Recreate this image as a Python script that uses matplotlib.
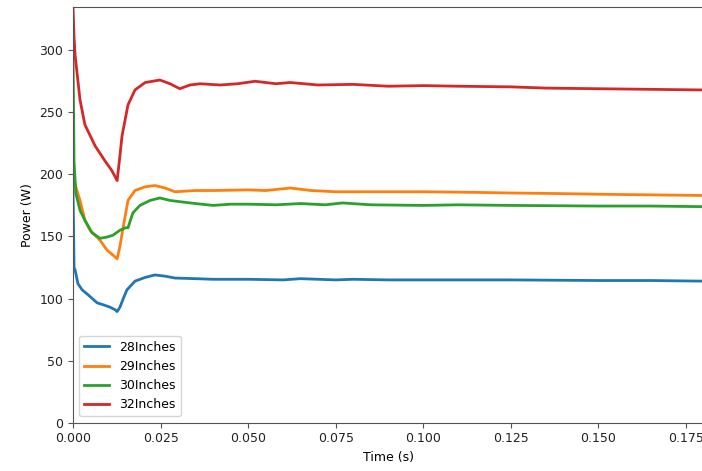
import numpy as np
import matplotlib
matplotlib.use("Agg")
import matplotlib.pyplot as plt

plt.rcParams['font.size'] = 9

# ---- data (time in s, power in W) ----
t_28 = [0.0, 0.0003, 0.0006, 0.0014, 0.0026, 0.0043, 0.0069, 0.0086, 0.0106, 0.0120, 0.0126,
        0.0134, 0.0145, 0.0154, 0.0177, 0.0206, 0.0234, 0.0263, 0.0291, 0.035, 0.040, 0.050,
        0.060, 0.065, 0.070, 0.075, 0.080, 0.090, 0.100, 0.125, 0.150, 0.165, 0.180]
p_28 = [190, 125, 123, 112, 107, 103, 96.5, 95, 93, 91, 89.5,
        93, 101, 107, 114, 117, 119, 118, 116.5, 116, 115.5, 115.5,
        115, 116, 115.5, 115, 115.5, 115, 115, 115, 114.5, 114.5, 114]

t_29 = [0.0, 0.0003, 0.0008, 0.0020, 0.0034, 0.0049, 0.0077, 0.0097, 0.0114, 0.0126,
        0.0134, 0.0143, 0.0157, 0.0177, 0.0206, 0.0234, 0.0263, 0.0291, 0.035, 0.040,
        0.050, 0.055, 0.062, 0.068, 0.075, 0.090, 0.100, 0.115, 0.125, 0.140, 0.150, 0.165, 0.180]
p_29 = [206, 196, 190, 179, 163, 155, 147, 139, 135, 132,
        142, 157, 179, 187, 190, 191, 189, 186, 187, 187,
        187.5, 187, 189, 187, 186, 186, 186, 185.5, 185, 184.5, 184, 183.5, 183]

t_30 = [0.0, 0.0003, 0.0008, 0.0020, 0.0034, 0.0054, 0.0077, 0.0097, 0.0114, 0.0134,
        0.0150, 0.0157, 0.0171, 0.0191, 0.0220, 0.0248, 0.0277, 0.0305, 0.035, 0.040,
        0.045, 0.050, 0.058, 0.065, 0.072, 0.077, 0.085, 0.100, 0.110, 0.125, 0.150, 0.165, 0.180]
p_30 = [300, 210, 185, 171, 163, 153, 148.5, 149.5, 151, 155,
        157, 157, 169, 175, 179, 181, 179, 178, 176.5, 175,
        176, 176, 175.5, 176.5, 175.5, 177, 175.5, 175, 175.5, 175, 174.5, 174.5, 174]

t_32 = [0.0, 0.0003, 0.0006, 0.0020, 0.0034, 0.0063, 0.0091, 0.0111, 0.0126,
        0.0134, 0.0140, 0.0157, 0.0177, 0.0206, 0.0248, 0.0277, 0.0305, 0.0334, 0.0363,
        0.042, 0.047, 0.052, 0.058, 0.062, 0.070, 0.080, 0.090, 0.100, 0.110, 0.125,
        0.135, 0.150, 0.165, 0.180]
p_32 = [335, 310, 296, 260, 240, 223, 211, 203, 195,
        215, 231, 256, 268, 274, 276, 273, 269, 272, 273,
        272, 273, 275, 273, 274, 272, 272.5, 271, 271.5, 271, 270.5,
        269.5, 269, 268.5, 268]

series = [(t_28, p_28, "28Inches"), (t_29, p_29, "29Inches"),
          (t_30, p_30, "30Inches"), (t_32, p_32, "32Inches")]

fig = plt.figure(figsize=(7.02, 4.71), dpi=100)
ax = fig.add_axes([0.104, 0.1026, 0.898, 0.883])

for t, p, lab in series:
    ax.plot(t, p, lw=2, label=lab)

ax.set_xlim(0, 0.18)
ax.set_ylim(0, 335)
ax.set_xticks(np.arange(0, 0.176, 0.025))
ax.set_yticks(np.arange(0, 301, 50))
ax.set_xlabel("Time (s)")
ax.set_ylabel("Power (W)")
for s in ax.spines.values():
    s.set_color("#555555")
ax.tick_params(colors="#555555", labelcolor="#222222")
ax.legend(loc="lower left")

fig.savefig("out.png", dpi=100)
